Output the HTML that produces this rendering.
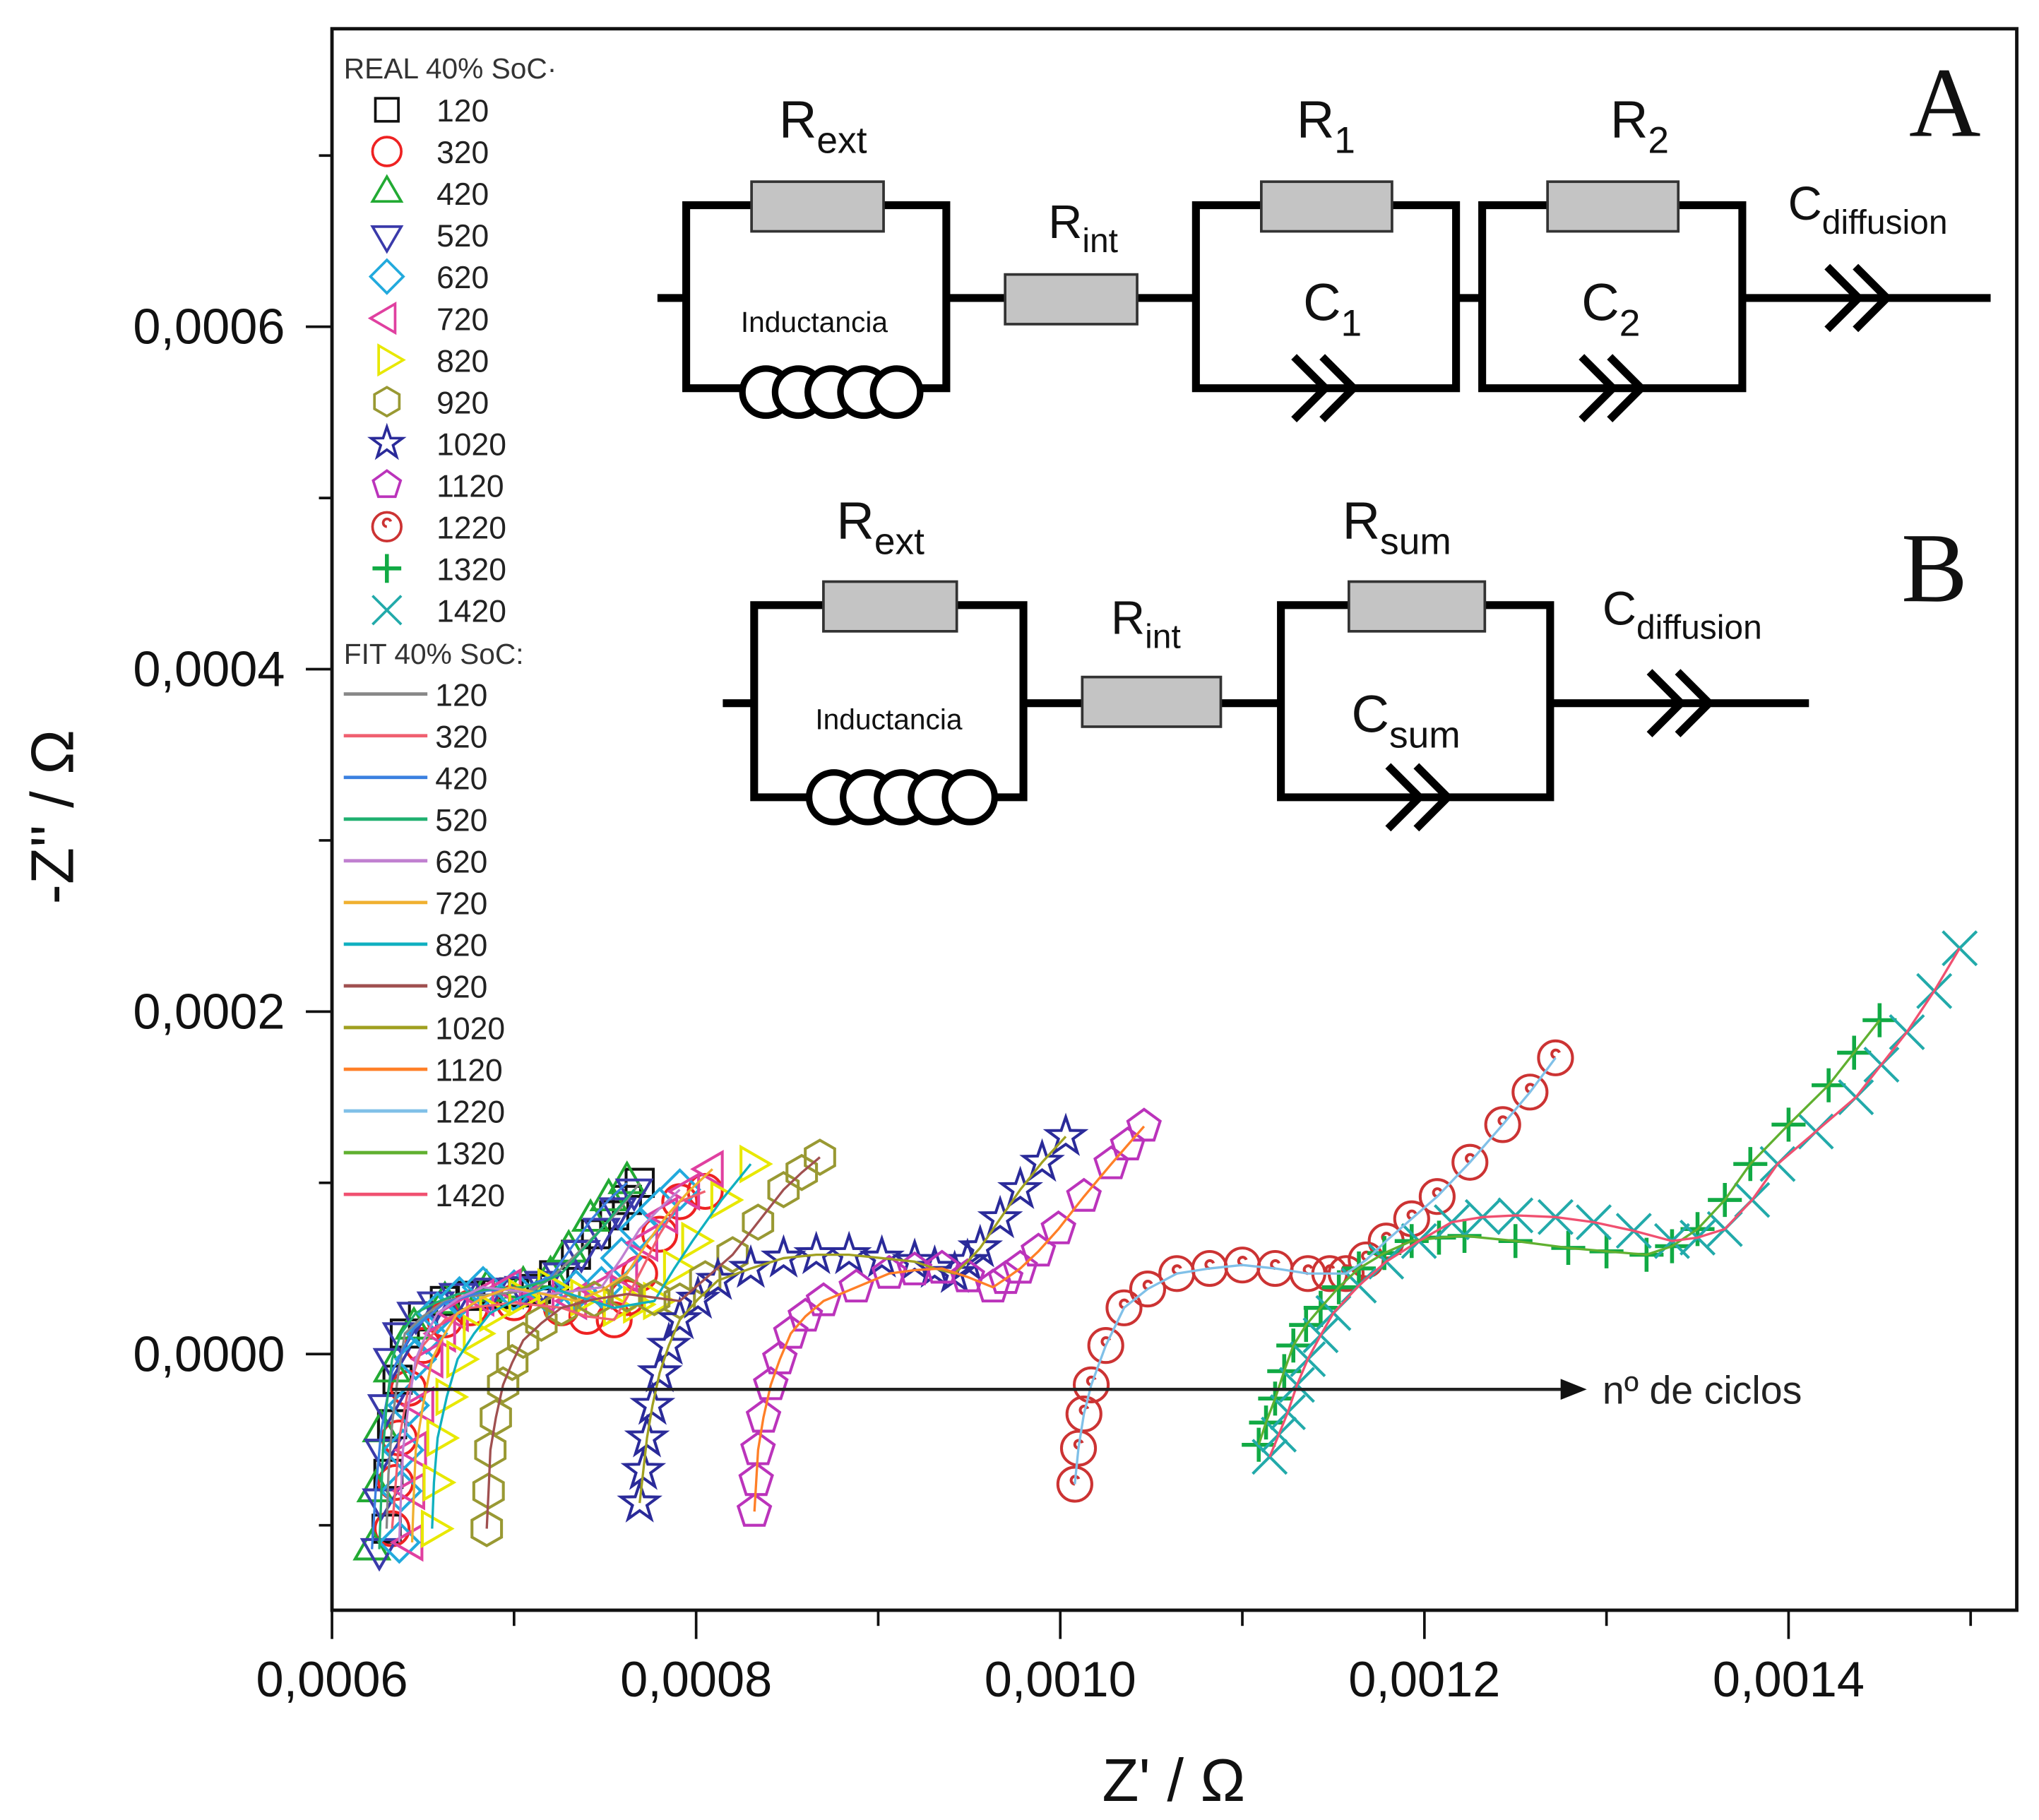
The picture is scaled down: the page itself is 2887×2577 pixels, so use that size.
<!DOCTYPE html>
<html><head><meta charset="utf-8"><style>
html,body{margin:0;padding:0;background:#fff;}
svg{display:block;}
</style></head><body>
<svg id="chart" width="2887" height="2577" viewBox="0 0 1560 1392.5" preserveAspectRatio="none" xmlns="http://www.w3.org/2000/svg" font-family="Liberation Sans, sans-serif">
<rect x="0" y="0" width="1560" height="1393" fill="#fff"/>
<g id="plot"></g>
<g id="axes"></g>
<g id="legend"></g>
<g id="circuits"></g>
</svg>
<script>
// data in units of 1e-4 ohm
const seriesNames = ["120","320","420","520","620","720","820","920","1020","1120","1220","1320","1420"];
const s120 = [[6.3,-1.02],[6.31,-0.7],[6.33,-0.41],[6.36,-0.15],[6.4,0.12],[6.5,0.22],[6.62,0.31],[6.76,0.34],[6.9,0.35],[7.0,0.36],[7.12,0.38],[7.22,0.46],[7.34,0.58],[7.45,0.7],[7.55,0.81],[7.62,0.9],[7.69,1.0]];
const s320 = [[6.33,-1.02],[6.35,-0.75],[6.37,-0.49],[6.42,-0.2],[6.5,0.05],[6.62,0.2],[6.76,0.27],[7.0,0.3],[7.26,0.27],[7.4,0.22],[7.55,0.2],[7.62,0.33],[7.69,0.47],[7.8,0.7],[7.91,0.89],[8.05,0.95]];
const s420 = [[6.22,-1.14],[6.24,-0.8],[6.27,-0.45],[6.33,-0.1],[6.45,0.15],[6.62,0.3],[6.85,0.37],[7.05,0.39],[7.2,0.45],[7.3,0.6],[7.42,0.78],[7.52,0.9],[7.62,1.0]];
const s520 = [[6.26,-1.14],[6.27,-0.85],[6.28,-0.56],[6.3,-0.3],[6.33,-0.03],[6.38,0.12],[6.46,0.24],[6.57,0.3],[6.69,0.35],[6.87,0.38],[7.05,0.39],[7.16,0.42],[7.26,0.47],[7.37,0.6],[7.48,0.73],[7.57,0.85],[7.66,0.96]];
const s620 = [[6.37,-1.1],[6.38,-0.8],[6.39,-0.56],[6.42,-0.3],[6.46,-0.03],[6.52,0.12],[6.58,0.24],[6.7,0.33],[6.83,0.39],[7.0,0.37],[7.19,0.35],[7.34,0.37],[7.48,0.39],[7.59,0.56],[7.69,0.73],[7.8,0.85],[7.91,0.96]];
const s720 = [[6.44,-1.1],[6.45,-0.8],[6.46,-0.56],[6.5,-0.3],[6.55,-0.03],[6.62,0.12],[6.69,0.24],[6.83,0.33],[6.98,0.39],[7.16,0.35],[7.34,0.31],[7.48,0.37],[7.62,0.47],[7.73,0.65],[7.84,0.81],[7.96,0.95],[8.09,1.08]];
const s820 = [[6.55,-1.02],[6.56,-0.75],[6.58,-0.49],[6.63,-0.25],[6.69,-0.03],[6.78,0.12],[6.87,0.24],[7.03,0.33],[7.19,0.39],[7.37,0.33],[7.55,0.27],[7.66,0.29],[7.77,0.31],[7.88,0.5],[7.98,0.66],[8.14,0.9],[8.3,1.11]];
const s920 = [[6.85,-1.02],[6.86,-0.8],[6.87,-0.56],[6.9,-0.37],[6.94,-0.18],[6.99,-0.05],[7.05,0.08],[7.15,0.18],[7.26,0.27],[7.44,0.32],[7.62,0.35],[7.77,0.33],[7.91,0.31],[8.05,0.44],[8.2,0.58],[8.34,0.77],[8.48,0.96],[8.58,1.06],[8.68,1.15]];
const s1020 = [[7.69,-0.87],[7.71,-0.68],[7.73,-0.49],[7.76,-0.3],[7.8,-0.11],[7.85,0.05],[7.91,0.2],[8.01,0.32],[8.12,0.43],[8.3,0.5],[8.48,0.56],[8.66,0.58],[8.84,0.58],[9.02,0.56],[9.2,0.54],[9.31,0.5],[9.42,0.47],[9.49,0.54],[9.56,0.62],[9.67,0.79],[9.78,0.96],[9.9,1.12],[10.03,1.27]];
const s1120 = [[8.32,-0.92],[8.33,-0.74],[8.34,-0.56],[8.37,-0.37],[8.41,-0.18],[8.46,-0.03],[8.52,0.12],[8.6,0.22],[8.7,0.31],[8.88,0.39],[9.06,0.47],[9.2,0.49],[9.35,0.5],[9.49,0.45],[9.63,0.39],[9.7,0.44],[9.78,0.5],[9.88,0.6],[9.99,0.73],[10.13,0.92],[10.28,1.11],[10.37,1.22],[10.46,1.33]];
const s1220 = [[10.08,-0.76],[10.1,-0.55],[10.13,-0.35],[10.17,-0.18],[10.25,0.05],[10.35,0.27],[10.48,0.38],[10.64,0.47],[10.82,0.5],[11.0,0.52],[11.18,0.5],[11.36,0.47],[11.48,0.47],[11.57,0.47],[11.68,0.55],[11.79,0.66],[11.93,0.79],[12.07,0.92],[12.25,1.12],[12.43,1.34],[12.58,1.53],[12.72,1.73]];
const s1320 = [[11.09,-0.53],[11.13,-0.4],[11.18,-0.26],[11.23,-0.1],[11.28,0.05],[11.35,0.17],[11.43,0.27],[11.53,0.39],[11.64,0.5],[11.78,0.59],[11.93,0.66],[12.08,0.68],[12.22,0.69],[12.5,0.66],[12.79,0.62],[13.0,0.6],[13.22,0.58],[13.36,0.63],[13.5,0.73],[13.65,0.9],[13.79,1.11],[14.0,1.34],[14.22,1.57],[14.36,1.76],[14.5,1.95]];
const s1420 = [[11.15,-0.6],[11.2,-0.47],[11.25,-0.34],[11.3,-0.18],[11.36,-0.03],[11.43,0.11],[11.5,0.24],[11.64,0.4],[11.79,0.54],[11.97,0.66],[12.15,0.77],[12.32,0.8],[12.5,0.81],[12.72,0.8],[12.93,0.77],[13.15,0.72],[13.36,0.66],[13.5,0.68],[13.65,0.73],[13.8,0.9],[13.94,1.11],[14.15,1.3],[14.37,1.5],[14.51,1.69],[14.65,1.88],[14.8,2.12],[14.94,2.37]];
const seriesData = [s120,s320,s420,s520,s620,s720,s820,s920,s1020,s1120,s1220,s1320,s1420];
const xTicks = [6,8,10,12,14];
const xTickLabels = ["0,0006","0,0008","0,0010","0,0012","0,0014"];
const yTicks = [6,4,2,0];
const yTickLabels = ["0,0006","0,0004","0,0002","0,0000"];

const markerColors = ["#111","#ee2222","#22aa33","#3a3aaa","#22aadd","#e040a0","#e8e800","#999933","#2a2a99","#bb33bb","#cc3333","#11aa44","#22aaaa"];
const fitColors = ["#888","#f06070","#3a80e0","#20b070","#c080d0","#f0b030","#10b0c0","#a05050","#a0a020","#ff7f27","#80c0e8","#60b030","#f05070"];
const shapes = ["square","circle","tri-up","tri-down","diamond","tri-left","tri-right","hexagon","star","pentagon","spiral","plus","cross"];

const NS="http://www.w3.org/2000/svg";
const X0=254,X1=1543,Y0=22,Y1=1232;
function xs(v){return 254+(v-6)*139.3;}
function ys(v){return 1036-v*131;}
function mk(tag,attrs,parent){const e=document.createElementNS(NS,tag);for(const k in attrs)e.setAttribute(k,attrs[k]);parent.appendChild(e);return e;}
function poly(n,r,rot,cx,cy){let p=[];for(let i=0;i<n;i++){const a=rot+i*2*Math.PI/n;p.push((cx+r*Math.cos(a)).toFixed(1)+","+(cy+r*Math.sin(a)).toFixed(1));}return p.join(" ");}
function marker(shape,cx,cy,r,col,parent,sw){
  const st={fill:"none",stroke:col,"stroke-width":sw||2};
  let e;
  if(shape==="square"){e=mk("rect",Object.assign({x:cx-r*0.8,y:cy-r*0.8,width:r*1.6,height:r*1.6},st),parent);}
  else if(shape==="circle"){e=mk("circle",Object.assign({cx:cx,cy:cy,r:r},st),parent);}
  else if(shape==="spiral"){e=mk("circle",Object.assign({cx:cx,cy:cy,r:r},st),parent);mk("path",Object.assign({d:`M${cx} ${cy} a3 3 0 1 1 3 -4`},st),parent);}
  else if(shape==="tri-up"){e=mk("polygon",Object.assign({points:poly(3,r*1.15,-Math.PI/2,cx,cy)},st),parent);}
  else if(shape==="tri-down"){e=mk("polygon",Object.assign({points:poly(3,r*1.15,Math.PI/2,cx,cy)},st),parent);}
  else if(shape==="tri-left"){e=mk("polygon",Object.assign({points:poly(3,r*1.15,Math.PI,cx,cy)},st),parent);}
  else if(shape==="tri-right"){e=mk("polygon",Object.assign({points:poly(3,r*1.15,0,cx,cy)},st),parent);}
  else if(shape==="diamond"){e=mk("polygon",Object.assign({points:poly(4,r*1.15,0,cx,cy)},st),parent);}
  else if(shape==="hexagon"){e=mk("polygon",Object.assign({points:poly(6,r,-Math.PI/2,cx,cy)},st),parent);}
  else if(shape==="pentagon"){e=mk("polygon",Object.assign({points:poly(5,r,-Math.PI/2,cx,cy)},st),parent);}
  else if(shape==="star"){let p=[];for(let i=0;i<10;i++){const a=-Math.PI/2+i*Math.PI/5;const rr=i%2?r*0.45:r*1.15;p.push((cx+rr*Math.cos(a)).toFixed(1)+","+(cy+rr*Math.sin(a)).toFixed(1));}e=mk("polygon",Object.assign({points:p.join(" ")},st),parent);}
  else if(shape==="plus"){e=mk("path",Object.assign({d:`M${cx-r} ${cy}H${cx+r}M${cx} ${cy-r}V${cy+r}`},st,{"stroke-width":3}),parent);}
  else {e=mk("path",Object.assign({d:`M${cx-r} ${cy-r}L${cx+r} ${cy+r}M${cx+r} ${cy-r}L${cx-r} ${cy+r}`},st),parent);}
  return e;
}

// plot
const plot=document.getElementById("plot");
seriesData.forEach((data,i)=>{
  const g=mk("g",{},plot);
  
  
  data.forEach(d=>{
    const m=marker(shapes[i],xs(d[0]),ys(d[1]),13,markerColors[i],g,2.2);
    
    
  });
});
seriesData.forEach((data,i)=>{
  const l=mk("polyline",{points:data.map(d=>xs(d[0]).toFixed(1)+","+ys(d[1]).toFixed(1)).join(" "),fill:"none",stroke:fitColors[i],"stroke-width":1.8},plot);
  
  
});
// arrow
const arrow=mk("line",{x1:300,y1:1063,x2:1198,y2:1063,stroke:"#222","stroke-width":2.4},plot);


mk("polygon",{points:"1194,1055 1214,1063 1194,1071",fill:"#111"},plot);
const at=mk("text",{x:1226,y:1074,"font-size":30,fill:"#222"},plot);at.textContent="nº de ciclos";



// axes
const axes=document.getElementById("axes");
const frame=mk("rect",{x:X0,y:Y0,width:X1-X0,height:Y1-Y0,fill:"none",stroke:"#111","stroke-width":2.6},axes);


for(let v=6;v<=15;v+=1){const x=xs(v);mk("line",{x1:x,y1:Y1,x2:x,y2:Y1+(v%2===0?22:12),stroke:"#111","stroke-width":2},axes);}
xTicks.forEach((v,i)=>{const t=mk("text",{x:xs(v),y:1298,"font-size":38,"text-anchor":"middle",fill:"#111"},axes);t.textContent=xTickLabels[i];

});
for(let v=-1;v<=7;v+=1){const y=ys(v);mk("line",{x1:X0,y1:y,x2:X0-(v%2===0?20:10),y2:y,stroke:"#111","stroke-width":2},axes);}
yTicks.forEach((v,i)=>{const t=mk("text",{x:218,y:ys(v)+13,"font-size":38,"text-anchor":"end",fill:"#111"},axes);t.textContent=yTickLabels[i];

});
const xt=mk("text",{x:898,y:1378,"font-size":46,"text-anchor":"middle",fill:"#111"},axes);xt.textContent="Z' / Ω";


const yt=mk("text",{x:0,y:0,"font-size":46,"text-anchor":"middle",fill:"#111",transform:"translate(56,625) rotate(-90)"},axes);yt.textContent="-Z'' / Ω";



// legend
const lg=document.getElementById("legend");
const t1=mk("text",{x:263,y:60,"font-size":22,fill:"#333"},lg);t1.textContent="REAL 40% SoC·";


seriesNames.forEach((n,i)=>{const y=84+i*31.9;
 const m=marker(shapes[i],296,y,11,markerColors[i],lg,2);
 
 
 const t=mk("text",{x:334,y:y+9,"font-size":24,fill:"#222"},lg);t.textContent=n;
 
 });
const t2=mk("text",{x:263,y:508,"font-size":22,fill:"#333"},lg);t2.textContent="FIT 40% SoC:";


seriesNames.forEach((n,i)=>{const y=531+i*31.9;
 const l=mk("line",{x1:263,y1:y,x2:327,y2:y,stroke:fitColors[i],"stroke-width":2.6},lg);
 
 
 const t=mk("text",{x:333,y:y+9,"font-size":24,fill:"#222"},lg);t.textContent=n;
 
 });

// circuits
const cg=document.getElementById("circuits");
const W={stroke:"#000","stroke-width":6,fill:"none","stroke-linecap":"butt"};
function wire(d){mk("path",Object.assign({d:d},W),cg);}
function res(x,y,w,h,name){const r=mk("rect",{x:x,y:y,width:w,height:h,fill:"#c4c4c4",stroke:"#333","stroke-width":2},cg);}
function coil(x0,y,r,sp){for(let i=0;i<5;i++){mk("circle",{cx:x0+i*sp,cy:y,r:r,fill:"#fff",stroke:"#000","stroke-width":5},cg);}}
function cap(x,y,s){wire(`M${x} ${y-s}L${x+s} ${y}L${x} ${y+s}M${x+s*0.9} ${y-s}L${x+s*1.9} ${y}L${x+s*0.9} ${y+s}`);}
function lbl(x,y,main,sub,fs){const t=mk("text",{x:x,y:y,"font-size":fs,fill:"#111"},cg);t.textContent=main;const s=mk("tspan",{"font-size":fs*0.72,dy:fs*0.3},t);s.textContent=sub;}
function plain(x,y,s,fs,fam){const t=mk("text",{x:x,y:y,"font-size":fs,fill:"#111","text-anchor":"middle"},cg);if(fam)t.setAttribute("font-family",fam);t.textContent=s;}
// A
wire("M503 228H525M525 157H724V297H525Z M724 228H915 M915 157H1114V297H915Z M1114 228H1134 M1134 157H1333V297H1134Z M1333 228H1523");
res(575,139,101,38,'resistor-rext-a');res(769,210,101,38,'resistor-rint-a');res(965,139,100,38,'resistor-r1');res(1184,139,100,38,'resistor-r2');
coil(586,300,18,25);
cap(990,297,24);cap(1210,297,24);cap(1398,228,24);
lbl(596,105,"R","ext",40);lbl(802,182,"R","int",36);lbl(992,105,"R","1",40);lbl(1232,105,"R","2",40);
lbl(997,245,"C","1",40);lbl(1210,245,"C","2",40);lbl(1368,168,"C","diffusion",36);
plain(623,254,"Inductancia",22);plain(1488,104,"A",76,"Liberation Serif, serif");
// B
wire("M553 538H577M577 463H783V610H577Z M783 538H980 M980 463H1186V610H980Z M1186 538H1384");
res(630,445,102,38,'resistor-rext-b');res(828,518,106,38,'resistor-rint-b');res(1032,445,104,38,'resistor-rsum');
coil(638,610,19,26);
cap(1062,610,24);cap(1262,538,24);
lbl(640,412,"R","ext",40);lbl(850,485,"R","int",36);lbl(1027,412,"R","sum",40);lbl(1034,560,"C","sum",40);lbl(1226,478,"C","diffusion",36);
plain(680,558,"Inductancia",22);plain(1480,460,"B",76,"Liberation Serif, serif");
</script>
</body></html>
